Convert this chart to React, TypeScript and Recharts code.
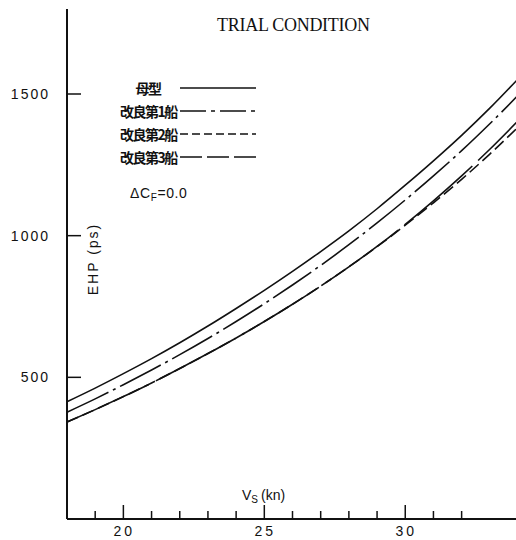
import { LineChart, Line, XAxis, YAxis, Legend, Customized } from "recharts";

// ship speed Vs (kn) and effective horsepower EHP (ps)
const speeds = [18, 19, 20, 21, 22, 23, 24, 25, 26, 27, 28, 29, 30, 31, 32, 33, 34];
const parentEhp = [414, 462, 513, 566, 622, 681, 743, 807, 874, 944, 1017, 1095, 1178, 1264, 1354, 1450, 1553];
const ship1Ehp = [377, 424, 474, 526, 580, 637, 697, 760, 826, 895, 968, 1045, 1126, 1211, 1300, 1395, 1495];
const ship2Ehp = [342, 386, 432, 480, 531, 584, 639, 697, 758, 822, 890, 961, 1037, 1116, 1199, 1288, 1383];
const ship3Ehp = [342, 386, 432, 480, 531, 584, 639, 697, 758, 822, 890, 962, 1040, 1123, 1211, 1305, 1405];

const speedTicks = [19, 20, 21, 22, 23, 24, 25, 26, 27, 28, 29, 30, 31, 32];
const labelledSpeeds = [20, 25, 30];
const ehpTicks = [500, 1000, 1500];

const seriesNames = ["母型", "改良第1船", "改良第2船", "改良第3船"];

const INK = "#111";

const data = speeds.map((vs, i) => ({
  vs,
  parent: parentEhp[i],
  ship1: ship1Ehp[i],
  ship2: ship2Ehp[i],
  ship3: ship3Ehp[i],
}));

const series = [
  { key: "parent", dash: undefined, legendDash: undefined },
  { key: "ship1", dash: "46 5 3 5", legendDash: "26 5 4 5" },
  { key: "ship2", dash: "12 5", legendDash: "8 4" },
  { key: "ship3", dash: "90 8", legendDash: "22 5" },
];

const numFont = "'Liberation Sans', Arial, sans-serif";

function SpeedTick(props: any) {
  const { x, y, payload } = props;
  const labelled = labelledSpeeds.includes(payload.value);
  return (
    <g>
      <line x1={x} x2={x} y1={y} y2={y - (labelled ? 14 : 8)} stroke={INK} strokeWidth={1.5} />
      {labelled && (
        <text
          x={x + 1}
          y={y + 17}
          textAnchor="middle"
          fontFamily={numFont}
          fontSize={14}
          letterSpacing={3}
          fill={INK}
        >
          {payload.value}
        </text>
      )}
    </g>
  );
}

function EhpTick(props: any) {
  const { x, y, payload } = props;
  return (
    <g>
      <line x1={x} x2={x + 14} y1={y} y2={y} stroke={INK} strokeWidth={1.5} />
      <text
        x={x - 17}
        y={y + 5}
        textAnchor="end"
        fontFamily={numFont}
        fontSize={14}
        letterSpacing={2}
        fill={INK}
      >
        {payload.value}
      </text>
    </g>
  );
}

function ShipLegend() {
  return (
    <div>
      {seriesNames.map((name, i) => (
        <div key={name} style={{ display: "flex", alignItems: "center", height: 23 }}>
          <span
            style={{
              width: 56,
              textAlign: "center",
              fontFamily: "'Noto Sans CJK JP', sans-serif",
              fontWeight: 700,
              fontSize: 14,
              letterSpacing: -1.5,
              color: INK,
              whiteSpace: "nowrap",
            }}
          >
            {name}
          </span>
          <svg width={80} height={6} style={{ marginLeft: 4 }}>
            <line
              x1={0}
              x2={76}
              y1={3}
              y2={3}
              stroke={INK}
              strokeWidth={1.6}
              strokeDasharray={series[i].legendDash}
            />
          </svg>
        </div>
      ))}
    </div>
  );
}

function Annotations() {
  return (
    <g fill={INK}>
      <text
        x={217}
        y={31}
        fontFamily="'Liberation Serif', serif"
        fontSize={18}
        textLength={153}
        lengthAdjust="spacing"
      >
        TRIAL CONDITION
      </text>
      <text x={130} y={198} fontFamily={numFont} fontSize={14} letterSpacing={0.6}>
        ΔC
        <tspan fontSize={10} dy={3}>F</tspan>
        <tspan dy={-3}>=0.0</tspan>
      </text>
      <text
        transform="translate(98 259) rotate(-90)"
        textAnchor="middle"
        fontFamily={numFont}
        fontSize={14}
        letterSpacing={2}
      >
        EHP (ps)
      </text>
      <text x={242} y={500} fontFamily={numFont} fontSize={14}>
        V
        <tspan fontSize={10} dy={3}>S</tspan>
        <tspan dy={-3} dx={3}>(kn)</tspan>
      </text>
    </g>
  );
}

export default function App() {
  return (
    <div
      style={{
        position: "absolute",
        left: 0,
        top: 0,
        width: 516,
        height: 540,
        overflow: "hidden",
        background: "#fff",
      }}
    >
      <LineChart
        width={520}
        height={540}
        data={data}
        margin={{ top: 9, right: 2, bottom: 0, left: 0 }}
      >
        <XAxis
          dataKey="vs"
          type="number"
          domain={[18, 34]}
          ticks={speedTicks}
          interval={0}
          height={21}
          tickSize={0}
          tickMargin={0}
          tickLine={false}
          axisLine={{ stroke: INK, strokeWidth: 2 }}
          tick={<SpeedTick />}
        />
        <XAxis
          xAxisId="frame"
          orientation="top"
          type="number"
          domain={[18, 34]}
          height={0}
          tick={false}
          tickLine={false}
          axisLine={{ stroke: INK, strokeWidth: 2 }}
        />
        <YAxis
          type="number"
          domain={[0, 1800]}
          ticks={ehpTicks}
          width={67}
          tickSize={0}
          tickMargin={0}
          tickLine={false}
          axisLine={{ stroke: INK, strokeWidth: 2 }}
          tick={<EhpTick />}
        />
        <Legend
          layout="vertical"
          align="center"
          verticalAlign="middle"
          content={<ShipLegend />}
          wrapperStyle={{ left: 120, top: 76, width: 170 }}
        />
        <Customized component={Annotations} />
        {series.map((s, i) => (
          <Line
            key={s.key}
            dataKey={s.key}
            name={seriesNames[i]}
            type="monotone"
            stroke={INK}
            strokeWidth={1.6}
            strokeDasharray={s.dash}
            dot={false}
            activeDot={false}
            isAnimationActive={false}
          />
        ))}
      </LineChart>
    </div>
  );
}
